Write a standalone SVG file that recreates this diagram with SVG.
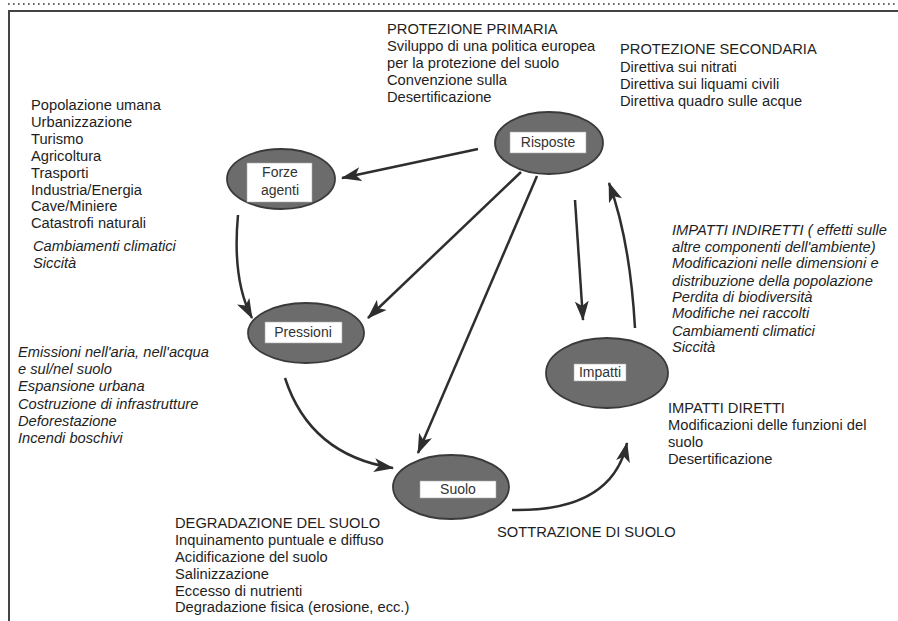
<svg xmlns="http://www.w3.org/2000/svg" width="898" height="621" viewBox="0 0 898 621">
<defs>
<marker id="ah" markerUnits="userSpaceOnUse" markerWidth="20" markerHeight="14" refX="19" refY="7" orient="auto">
<path d="M0,0 L20,7 L0,14 L5,7 z" fill="#2e2e2e"/>
</marker>
<style>
text{font-family:"Liberation Sans",Arial,sans-serif;font-size:14.7px;fill:#1e1e1e}
.it{font-style:italic}
.lab{font-size:14px;text-anchor:middle;fill:#333}
.node ellipse{fill:#6c6c6c;stroke:#3a3a3a;stroke-width:1.8}
.node rect{fill:#fff;stroke:#aaa;stroke-width:0.6}
.conn path{fill:none;stroke:#2e2e2e;stroke-width:2.5;marker-end:url(#ah)}
</style>
</defs>
<rect width="898" height="621" fill="#fff"/>
<g id="frame">
<line x1="8" y1="4" x2="898" y2="4" stroke="#666" stroke-width="2" stroke-dasharray="1.6 3.4"/>
<path d="M9,621 L9,11 L898,11" fill="none" stroke="#444" stroke-width="2"/>
</g>
<g id="connectors" class="conn">
<path d="M478,149 L342,178"/>
<path d="M521,172 L368,318"/>
<path d="M537,176 L418,453"/>
<path d="M575,200 L583,320"/>
<path d="M635,328 Q630,240 609,183"/>
<path d="M238,215 Q232,280 252,318"/>
<path d="M285,378 Q310,455 393,468"/>
<path d="M512,510 Q612,512 627,443"/>
</g>
<g id="node-risposte" class="node">
<ellipse cx="549" cy="143" rx="54" ry="31"/>
<rect x="510" y="132" width="76" height="21"/>
<text class="lab" x="548" y="147">Risposte</text>
</g>
<g id="node-forze" class="node">
<ellipse cx="281" cy="179" rx="54" ry="30"/>
<rect x="247" y="163" width="65" height="39"/>
<text class="lab" x="280" y="177">Forze</text>
<text class="lab" x="280" y="195">agenti</text>
</g>
<g id="node-pressioni" class="node">
<ellipse cx="306" cy="333" rx="58" ry="30"/>
<rect x="265" y="322" width="77" height="21"/>
<text class="lab" x="303" y="337">Pressioni</text>
</g>
<g id="node-suolo" class="node">
<ellipse cx="451" cy="487" rx="58" ry="32"/>
<rect x="420" y="481" width="76" height="17"/>
<text class="lab" x="458" y="494">Suolo</text>
</g>
<g id="node-impatti" class="node">
<ellipse cx="607" cy="373" rx="61" ry="35"/>
<rect x="574" y="364" width="52" height="17"/>
<text class="lab" x="600" y="377">Impatti</text>
</g>
<g id="text-protezione-primaria">
<text x="387" y="34">PROTEZIONE PRIMARIA</text>
<text x="387" y="51">Sviluppo di una politica europea</text>
<text x="387" y="68">per la protezione del suolo</text>
<text x="387" y="85">Convenzione sulla</text>
<text x="387" y="102">Desertificazione</text>
</g>
<g id="text-protezione-secondaria">
<text x="620" y="54">PROTEZIONE SECONDARIA</text>
<text x="620" y="72">Direttiva sui nitrati</text>
<text x="620" y="89">Direttiva sui liquami civili</text>
<text x="620" y="106">Direttiva quadro sulle acque</text>
</g>
<g id="text-forze">
<text x="31" y="110">Popolazione umana</text>
<text x="31" y="127">Urbanizzazione</text>
<text x="31" y="144">Turismo</text>
<text x="31" y="161">Agricoltura</text>
<text x="31" y="178">Trasporti</text>
<text x="31" y="195">Industria/Energia</text>
<text x="31" y="211">Cave/Miniere</text>
<text x="31" y="228">Catastrofi naturali</text>
<text class="it" x="33" y="251">Cambiamenti climatici</text>
<text class="it" x="33" y="268">Siccità</text>
</g>
<g id="text-pressioni">
<text class="it" x="18" y="357">Emissioni nell'aria, nell'acqua</text>
<text class="it" x="18" y="374">e sul/nel suolo</text>
<text class="it" x="18" y="391">Espansione urbana</text>
<text class="it" x="18" y="409">Costruzione di infrastrutture</text>
<text class="it" x="18" y="426">Deforestazione</text>
<text class="it" x="18" y="443">Incendi boschivi</text>
</g>
<g id="text-impatti-indiretti">
<text class="it" x="672" y="235">IMPATTI INDIRETTI ( effetti sulle</text>
<text class="it" x="672" y="252">altre componenti dell'ambiente)</text>
<text class="it" x="672" y="268">Modificazioni nelle dimensioni e</text>
<text class="it" x="672" y="286">distribuzione della popolazione</text>
<text class="it" x="672" y="302">Perdita di biodiversità</text>
<text class="it" x="672" y="318">Modifiche nei raccolti</text>
<text class="it" x="672" y="336">Cambiamenti climatici</text>
<text class="it" x="672" y="352">Siccità</text>
</g>
<g id="text-impatti-diretti">
<text x="668" y="413">IMPATTI DIRETTI</text>
<text x="668" y="430">Modificazioni delle funzioni del</text>
<text x="668" y="447">suolo</text>
<text x="668" y="464">Desertificazione</text>
</g>
<g id="text-degradazione">
<text x="175" y="528">DEGRADAZIONE DEL SUOLO</text>
<text x="175" y="545">Inquinamento puntuale e diffuso</text>
<text x="175" y="562">Acidificazione del suolo</text>
<text x="175" y="579">Salinizzazione</text>
<text x="175" y="596">Eccesso di nutrienti</text>
<text x="175" y="612">Degradazione fisica (erosione, ecc.)</text>
</g>
<g id="text-sottrazione">
<text x="497" y="537">SOTTRAZIONE DI SUOLO</text>
</g>
</svg>
